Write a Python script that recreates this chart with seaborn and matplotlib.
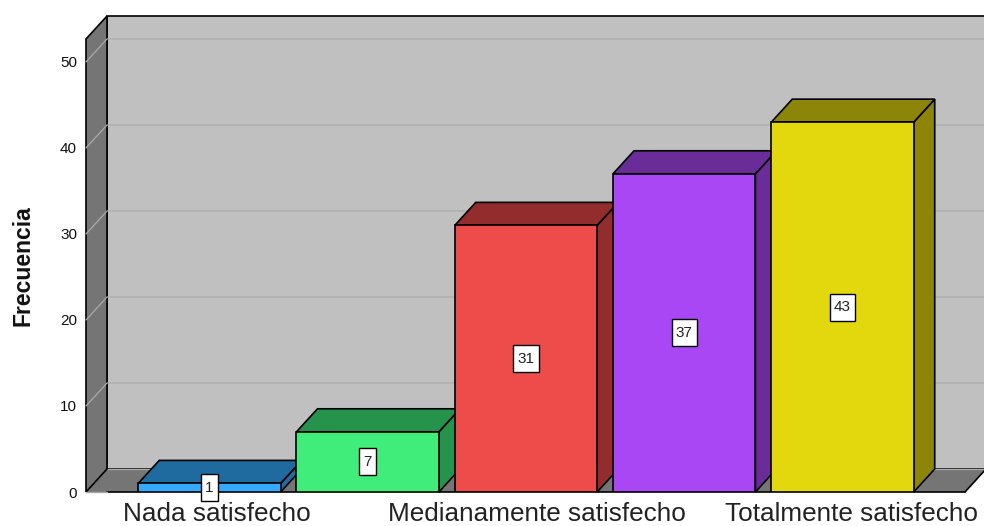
import matplotlib
matplotlib.use("Agg")
import matplotlib.pyplot as plt
from matplotlib.patches import Polygon
from matplotlib.path import Path
import seaborn as sns

# Survey results: satisfaction level and how many respondents chose it
niveles = [0, 1, 2, 3, 4]
frecuencia = [1, 7, 31, 37, 43]
etiquetas_niveles = [0, 2, 4]
etiquetas = ["Nada satisfecho", "Medianamente satisfecho", "Totalmente satisfecho"]
marcas_y = [0, 10, 20, 30, 40, 50]

color_frente = ["#33AAFF", "#40ED7A", "#EE4B4B", "#AA47F5", "#E3D80E"]
color_lado = ["#1F6B9F", "#26934C", "#932C2C", "#6A2C98", "#8C8508"]

sns.set_style("white")
plt.rcParams["font.family"] = ["Liberation Sans", "DejaVu Sans"]

W, H = 984, 526
fig = plt.figure(figsize=(W / 100, H / 100), dpi=100)
ax = fig.add_axes([86 / W, (H - 492) / H, (965 - 86) / W, (492 - 39) / H])

sns.barplot(x=niveles, y=frecuencia, hue=niveles, palette=color_frente, legend=False,
            width=0.9, edgecolor="black", linewidth=1.2, saturation=1, ax=ax, dodge=False)

XMIN, XMAX = -0.78, 4.774
YMAX = 52.67
ax.set_xlim(XMIN, XMAX)
ax.set_ylim(0, YMAX)

# Oblique projection offset applied to everything behind the front plane
DX = 21 / 158.25
DY = 23 / 8.6
NEGRO = "black"
LW = 1.2


def cara(puntos, color, z, borde=NEGRO):
    ax.add_patch(Polygon(puntos, closed=True, facecolor=color, edgecolor=borde,
                         linewidth=LW, zorder=z, clip_on=False, joinstyle="miter"))


def caja_etiqueta(x0, y0, ancho, alto, escala):
    # Value tag: snug at the sides, with more room above and below the digits
    px, py = 0.27 * escala, 0.42 * escala
    return Path([(x0 - px, y0 - py), (x0 + ancho + px, y0 - py),
                 (x0 + ancho + px, y0 + alto + py), (x0 - px, y0 + alto + py),
                 (x0 - px, y0 - py)], closed=True)


# Chart box: back wall, left wall, floor
cara([(XMIN + DX, DY), (XMAX + DX, DY), (XMAX + DX, YMAX + DY), (XMIN + DX, YMAX + DY)],
     "#C0C0C0", 0.5)
cara([(XMIN, 0), (XMIN + DX, DY), (XMAX + DX, DY), (XMAX, 0)], "#757575", 0.6, borde="none")
ax.plot([XMIN + DX, XMAX + DX], [DY, DY], color="#A8A8A8", lw=1.0, zorder=0.7, clip_on=False)
ax.plot([XMIN + DX, XMAX], [0, 0], color=NEGRO, lw=LW, zorder=0.8, clip_on=False)
ax.plot([XMAX, XMAX + DX], [0, DY], color=NEGRO, lw=LW, zorder=0.8, clip_on=False)
cara([(XMIN, 0), (XMIN + DX, DY), (XMIN + DX, YMAX + DY), (XMIN, YMAX)], "#757575", 0.9)
ax.plot([XMIN, XMIN + DX], [0, 0], color="#A8A8A8", lw=1.0, zorder=0.95, clip_on=False)

# Gridlines run along the back wall and fold down the left wall
for v in marcas_y[1:]:
    ax.plot([XMIN, XMIN + DX, XMAX + DX], [v, v + DY, v + DY], color="#ABABAB", lw=0.9,
            zorder=1, clip_on=False)

# Extrude each bar, working left to right so nearer neighbours overlap correctly
for i, (barra, valor) in enumerate(zip(ax.patches, frecuencia)):
    z = 2 + i
    x0 = barra.get_x()
    x1 = x0 + barra.get_width()
    cara([(x1, 0), (x1 + DX, DY), (x1 + DX, valor + DY), (x1, valor)], color_lado[i], z)
    cara([(x0, valor), (x1, valor), (x1 + DX, valor + DY), (x0 + DX, valor + DY)], color_lado[i], z)
    barra.set_zorder(z + 0.1)
    barra.set_joinstyle("miter")
    ax.text(i, valor / 2, str(valor), ha="center", va="center", fontsize=11, color="#222222",
            zorder=20, clip_on=False,
            bbox=dict(boxstyle=caja_etiqueta, facecolor="white", edgecolor=NEGRO, linewidth=1.0))

sns.despine(ax=ax, left=True, bottom=True, top=True, right=True)
ax.set_yticks(marcas_y)
desplazamientos = [0.05, 0.07, 0.06]
ax.set_xticks([n + d for n, d in zip(etiquetas_niveles, desplazamientos)], etiquetas)
ax.tick_params(axis="y", length=0, pad=6.5, labelsize=11, labelcolor="#111111")
ax.tick_params(axis="x", length=0, pad=7, labelsize=18.8, labelcolor="#222222")
ax.set_xlabel("")
ax.set_ylabel("")
fig.text(23 / W, (H - 266) / H, "Frecuencia", rotation=90, ha="center", va="center",
         fontsize=16.5, fontweight="bold", color="#111111")

fig.savefig("out.png", dpi=100, facecolor="white")
